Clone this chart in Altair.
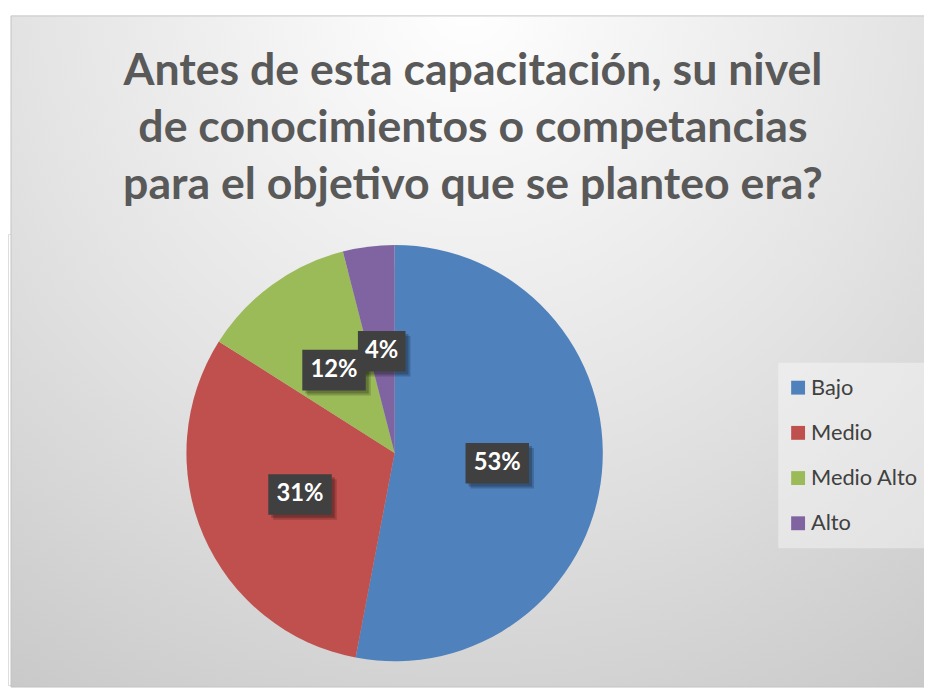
import altair as alt
import pandas as pd

categories = ["Bajo", "Medio", "Medio Alto", "Alto"]
values = [53, 31, 12, 4]
colors = ["#4F81BD", "#C0504D", "#9BBB59", "#8064A2"]
title_lines = ["Antes de esta capacitación, su nivel",
               "de conocimientos o competancias",
               "para el objetivo que se planteo era?"]

df = pd.DataFrame({"cat": categories, "val": values, "ord": list(range(len(categories)))})

W, H = 924, 455
PAD_TOP = 225
CX, CY, R = 390, 221, 210
LR = 104

base = alt.Chart(df)

bg = base.mark_rect(
    fill=alt.RadialGradient(
        gradient="radial",
        stops=[alt.GradientStop(color="#ffffff", offset=0),
               alt.GradientStop(color="#e4e4e4", offset=0.5),
               alt.GradientStop(color="#c6c6c6", offset=1)],
        x1=0.5, y1=0.12, r1=0, x2=0.5, y2=0.12, r2=0.95),
    stroke="#c4c4c4", strokeWidth=1
).encode(x=alt.value(3), x2=alt.value(W + 2), y=alt.value(-220), y2=alt.value(H + 2)
).transform_filter(alt.datum.ord == 0)

title = base.mark_text(text=title_lines, font="Lato", fontSize=45, fontWeight="bold",
                       color="#595959", lineHeight=57.5, align="center",
                       baseline="alphabetic").encode(
    x=alt.value(469), y=alt.value(-150)
).transform_filter(alt.datum.ord == 0)

shadows = []
for r, op in [(219, 0.04), (216, 0.05), (213, 0.06)]:
    shadows.append(
        base.mark_circle(color="black", opacity=op).encode(
            x=alt.value(CX), y=alt.value(CY + 3), size=alt.value(3.14159 * r * r)
        ).transform_filter(alt.datum.ord == 0)
    )

pie = base.mark_arc(radius=R).encode(
    theta=alt.Theta("val:Q", stack=True),
    color=alt.Color("cat:N", scale=alt.Scale(domain=categories, range=colors),
                    legend=alt.Legend(orient="none", legendX=777, legendY=130, title=None,
                                      symbolType="square", symbolSize=196, symbolStrokeWidth=0,
                                      labelFontSize=22, labelFont="Lato", labelColor="#404040",
                                      rowPadding=23.6, padding=14, labelOffset=2,
                                      symbolOffset=-5,
                                      fillColor="rgba(255,255,255,0.38)")),
    order=alt.Order("ord:Q"),
    x=alt.value(CX), y=alt.value(CY),
)

lab = base.transform_joinaggregate(total="sum(val)").transform_window(
    cum="sum(val)", sort=[alt.SortField("ord")]
).transform_calculate(
    mid="(datum.cum - datum.val/2)/datum.total*2*PI",
    label="datum.val + '%'",
).transform_calculate(
    lx=f"{CX} + {LR}*sin(datum.mid)",
    ly=f"{CY} - {LR}*cos(datum.mid)",
    hw="8 + 8*length(datum.label)",
).transform_calculate(
    x1="datum.lx - datum.hw", x2="datum.lx + datum.hw",
    y1="datum.ly - 20", y2="datum.ly + 21",
)


def box(dx, dy, color, op):
    return lab.transform_calculate(
        bx1=f"datum.x1 + {dx}", bx2=f"datum.x2 + {dx}",
        by1=f"datum.y1 + {dy}", by2=f"datum.y2 + {dy}",
    ).mark_rect(color=color, opacity=op).encode(
        x=alt.X("bx1:Q", scale=None, axis=None), x2="bx2:Q",
        y=alt.Y("by1:Q", scale=None, axis=None), y2="by2:Q",
        order=alt.Order("ord:Q"),
    )


sh1 = box(5, 5, "black", 0.18)
sh2 = box(3, 3, "black", 0.22)
bx = box(0, 0, "#404040", 1.0)
txt = lab.mark_text(color="white", font="Lato", fontSize=24, fontWeight="bold",
                    align="center", baseline="middle").encode(
    x=alt.X("lx:Q", scale=None, axis=None), y=alt.Y("ly:Q", scale=None, axis=None),
    text="label:N",
)

chart = alt.layer(bg, title, *shadows, pie, sh1, sh2, bx, txt).properties(
    width=W, height=H,
    autosize=alt.AutoSizeParams(type="none"),
    padding={"left": 0, "top": PAD_TOP, "right": 0, "bottom": 0},
).configure_view(stroke=None).configure(background="white")

chart.save("out.html", embed_options={"renderer": "svg", "actions": False})
